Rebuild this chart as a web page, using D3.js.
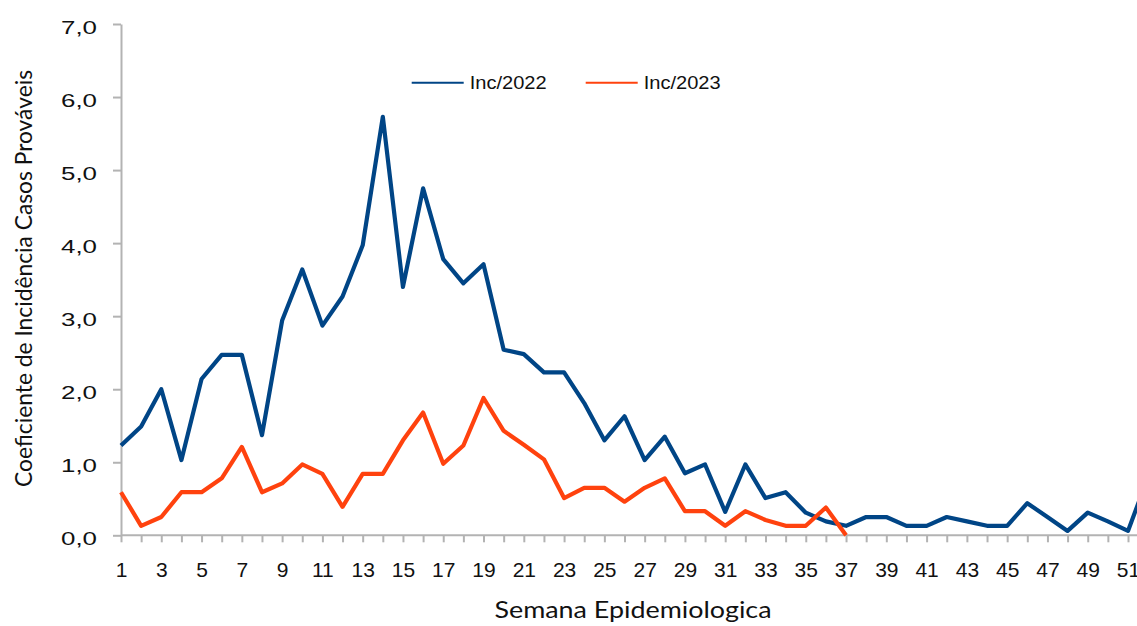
<!DOCTYPE html>
<html>
<head>
<meta charset="utf-8">
<script src="https://cdn.jsdelivr.net/npm/d3@7"></script>
<style>
  html, body { margin: 0; padding: 0; background: #fff; }
  svg { display: block; }
</style>
</head>
<body>
<div id="chart"></div>
<script>
const weeks = [1,2,3,4,5,6,7,8,9,10,11,12,13,14,15,16,17,18,19,20,21,22,23,24,25,26,
               27,28,29,30,31,32,33,34,35,36,37,38,39,40,41,42,43,44,45,46,47,48,49,50,51,52];
const inc2022 = [1.23,1.49,2.00,1.03,2.14,2.47,2.47,1.37,2.94,3.64,
                 2.87,3.27,3.97,5.73,3.40,4.75,3.78,3.45,3.71,2.54,
                 2.48,2.23,2.23,1.81,1.30,1.63,1.03,1.35,0.85,0.97,
                 0.32,0.97,0.51,0.59,0.31,0.19,0.13,0.25,0.25,0.13,
                 0.13,0.25,0.19,0.13,0.13,0.44,0.25,0.06,0.31,0.19,
                 0.06,0.80];
const inc2023 = [0.59,0.13,0.25,0.59,0.59,0.78,1.21,0.59,0.71,0.97,
                 0.84,0.39,0.84,0.84,1.30,1.68,0.98,1.23,1.88,1.43,
                 1.24,1.04,0.51,0.65,0.65,0.46,0.65,0.78,0.33,0.33,
                 0.13,0.33,0.21,0.13,0.13,0.38,0.00];
const yTicks = [0,1,2,3,4,5,6,7];
const seriesNames = ["Inc/2022", "Inc/2023"];
const seriesColors = ["#004586", "#ff420e"];
const xTitle = "Semana Epidemiologica";
const yTitle = "Coeficiente de Incidência  Casos Prováveis";

const W = 1137, H = 626;
const svg = d3.select("#chart").append("svg").attr("width", W).attr("height", H);

const x = d3.scaleLinear().domain([1, 52]).range([121, 121 + 51 * 20.14]);
const y = d3.scaleLinear().domain([0, 7]).range([535.3, 24]);

const axisColor = "#b3b3b3";

// X axis
const gx = svg.append("g").attr("transform", `translate(0,${y(0)})`)
  .call(d3.axisBottom(x).tickValues(weeks).tickSize(7).tickSizeOuter(0)
        .tickFormat(d => d % 2 === 1 ? String(d) : ""));
gx.select(".domain").attr("stroke", axisColor).attr("stroke-width", 2)
  .attr("d", `M${x(1)},0H${W + 20}`);
gx.selectAll(".tick line").attr("stroke", axisColor).attr("stroke-width", 2);
gx.selectAll(".tick text").attr("fill", "#111").attr("font-family", "Liberation Sans, Arial, sans-serif")
  .attr("font-size", 21).attr("dy", null).attr("y", 42);

// Y axis
const gy = svg.append("g").attr("transform", `translate(${x(1)},0)`)
  .call(d3.axisLeft(y).tickValues(yTicks).tickSize(8).tickSizeOuter(0)
        .tickFormat(d => d3.format(".1f")(d).replace(".", ",")));
gy.select(".domain").attr("stroke", axisColor).attr("stroke-width", 2);
gy.selectAll(".tick line").attr("stroke", axisColor).attr("stroke-width", 2);
gy.selectAll(".tick text").attr("fill", "#111").attr("font-family", "Liberation Sans, Arial, sans-serif")
  .attr("font-size", 19).attr("x", -24).attr("dy", "0.5em")
  .attr("textLength", 36).attr("lengthAdjust", "spacingAndGlyphs");

// Lines
const line = d3.line().x((d, i) => x(weeks[i])).y(d => y(d));
[inc2022, inc2023].forEach((s, k) => {
  svg.append("path").datum(s)
    .attr("fill", "none").attr("stroke", seriesColors[k])
    .attr("stroke-width", 4.2).attr("stroke-linejoin", "round")
    .attr("d", line);
});

// Legend
const legendX = [411.7, 585.7];
seriesNames.forEach((n, k) => {
  const g = svg.append("g");
  g.append("line").attr("x1", legendX[k]).attr("x2", legendX[k] + 52)
    .attr("y1", 82.7).attr("y2", 82.7).attr("stroke", seriesColors[k]).attr("stroke-width", 2);
  g.append("text").attr("x", legendX[k] + 58).attr("y", 89.3)
    .attr("font-family", "Liberation Sans, Arial, sans-serif").attr("font-size", 18.5)
    .attr("fill", "#111").attr("textLength", 77).attr("lengthAdjust", "spacingAndGlyphs")
    .text(n);
});

// Axis titles
svg.append("text").attr("x", 633).attr("y", 618).attr("text-anchor", "middle")
  .attr("font-family", "Lato, Open Sans, sans-serif").attr("font-size", 23).attr("fill", "#111")
  .attr("textLength", 277).attr("lengthAdjust", "spacingAndGlyphs")
  .text(xTitle);

svg.append("text").attr("transform", "translate(32,278.5) rotate(-90)")
  .attr("text-anchor", "middle")
  .attr("font-family", "Lato, Open Sans, sans-serif").attr("font-size", 23).attr("fill", "#111")
  .attr("textLength", 417).attr("lengthAdjust", "spacingAndGlyphs")
  .text(yTitle);
</script>
</body>
</html>
